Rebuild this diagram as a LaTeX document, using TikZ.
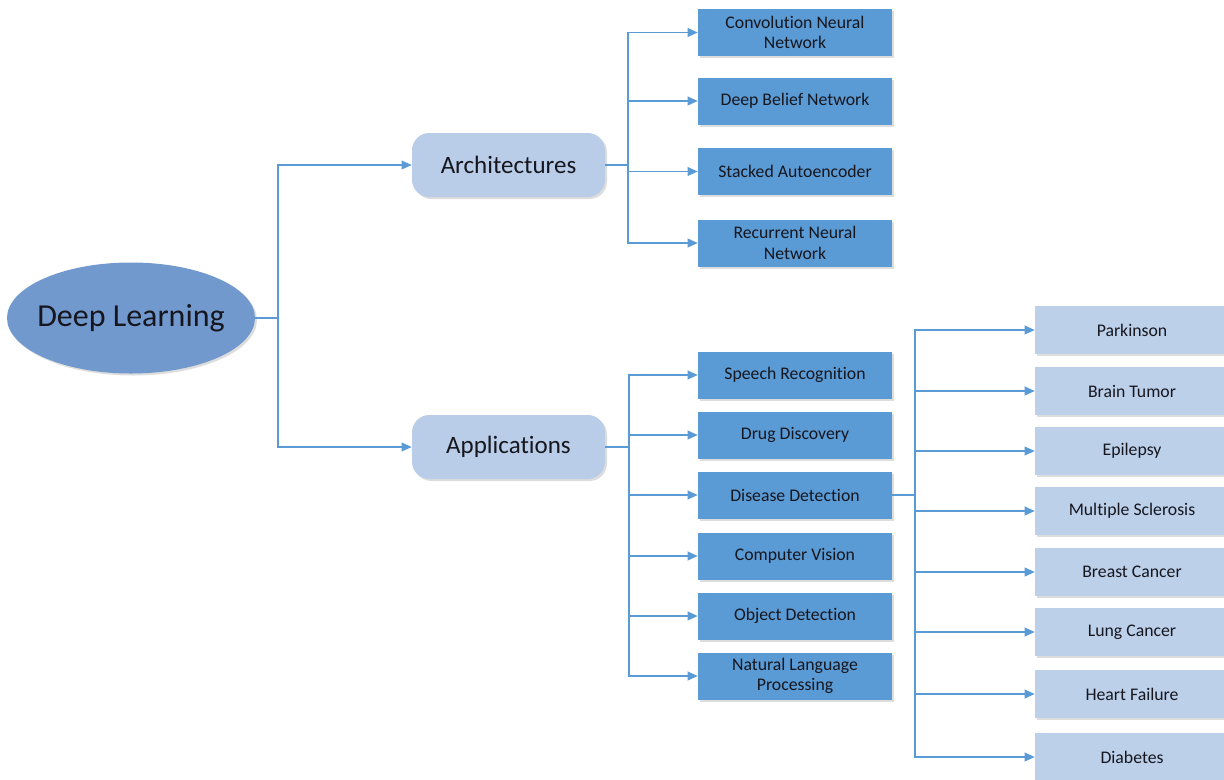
\documentclass[tikz,border=0pt]{standalone}
\usepackage{fontspec}
\setmainfont{Carlito}[Ligatures=NoCommon]
\usetikzlibrary{shapes.geometric,arrows.meta,shadows}
\definecolor{ellfill}{HTML}{7199CE}
\definecolor{roundfill}{HTML}{B9CDE8}
\definecolor{darkfill}{HTML}{5B9BD5}
\definecolor{lightfill}{HTML}{BCD0EA}
\definecolor{linecol}{HTML}{5B9BD5}
\definecolor{txt}{HTML}{16161E}
\begin{document}
\begin{tikzpicture}[x=0.75pt,y=-0.75pt,
  shad/.style={drop shadow={shadow xshift=1.5pt,shadow yshift=-1.5pt,opacity=0.22,fill=black!60}},
  rootnode/.style={ellipse,fill=ellfill,minimum width=186pt,minimum height=83.25pt,inner xsep=-12pt,inner ysep=0pt,text=txt,font=\fontsize{24}{28}\selectfont,shad},
  catbox/.style={rounded corners=13pt,fill=roundfill,minimum width=144.75pt,minimum height=48pt,inner sep=0pt,text=txt,font=\fontsize{18.75}{22}\selectfont,shad},
  darkbox/.style={fill=darkfill,minimum width=145.5pt,minimum height=35.25pt,inner sep=0pt,text=txt,align=center,font=\fontsize{13.3}{15.5}\selectfont,shad},
  lightbox/.style={fill=lightfill,minimum width=145.5pt,minimum height=36pt,inner sep=0pt,text=txt,align=center,font=\fontsize{13.3}{15.5}\selectfont,shad},
  conn/.style={draw=linecol,line width=1.1pt,-{Triangle[length=7.5pt,width=6.5pt]}},
  plain/.style={draw=linecol,line width=1.1pt}]
\useasboundingbox (0,0) rectangle (1224,779);
\clip (0,0) rectangle (1224,779);
\fill[white] (0,0) rectangle (1224,779);

% nodes
\node[rootnode] (dl) at (131,318) {Deep Learning};
\node[catbox] (arch) at (508.5,165) {Architectures};
\node[catbox] (apps) at (508.5,447) {Applications};

\node[darkbox] (cnn) at (795,32.5) {Convolution Neural\\Network};
\node[darkbox] (dbn) at (795,101) {Deep Belief Network};
\node[darkbox] (sae) at (795,171.5) {Stacked Autoencoder};
\node[darkbox] (rnn) at (795,243) {Recurrent Neural\\Network};

\node[darkbox] (sr) at (795,375) {Speech Recognition};
\node[darkbox] (dd) at (795,435) {Drug Discovery};
\node[darkbox] (dis) at (795,495) {Disease Detection};
\node[darkbox] (cv) at (795,556) {Computer Vision};
\node[darkbox] (od) at (795,616) {Object Detection};
\node[darkbox] (nlp) at (795,676) {Natural Language\\Processing};

\node[lightbox] (park) at (1132,330) {Parkinson};
\node[lightbox] (brain) at (1132,391) {Brain Tumor};
\node[lightbox] (epi) at (1132,451) {Epilepsy};
\node[lightbox] (ms) at (1132,511) {Multiple Sclerosis};
\node[lightbox] (breast) at (1132,572) {Breast Cancer};
\node[lightbox] (lung) at (1132,632) {Lung Cancer};
\node[lightbox] (heart) at (1132,694) {Heart Failure};
\node[lightbox] (diab) at (1132,757) {Diabetes};

% junction points
\coordinate (j1) at (278,318);
\coordinate (j2) at (628,165);
\coordinate (j3) at (629,447);
\coordinate (j4) at (915,495);

% connectors
\draw[plain] (dl.east) -- (j1);
\foreach \t in {arch,apps} \draw[conn] (j1) |- (\t.west);

\draw[plain] (arch.east) -- (j2);
\foreach \t in {cnn,dbn,sae,rnn} \draw[conn] (j2) |- (\t.west);

\draw[plain] (apps.east) -- (j3);
\foreach \t in {sr,dd,dis,cv,od,nlp} \draw[conn] (j3) |- (\t.west);

\draw[plain] (dis.east) -- (j4);
\foreach \t in {park,brain,epi,ms,breast,lung,heart,diab} \draw[conn] (j4) |- (\t.west);
\end{tikzpicture}
\end{document}
